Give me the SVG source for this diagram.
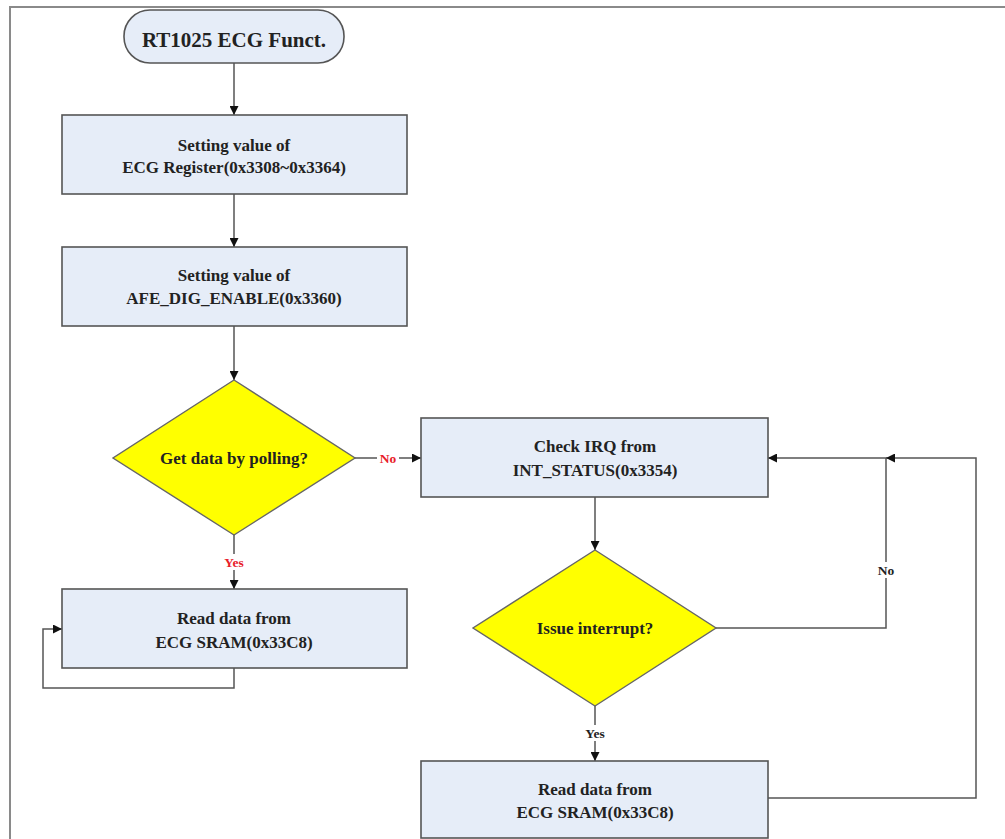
<svg xmlns="http://www.w3.org/2000/svg" width="1005" height="839" viewBox="0 0 1005 839">
<style>
.box{fill:#e6edf8;stroke:#555;stroke-width:1.6}
.dia{fill:#ffff00;stroke:#666;stroke-width:1.4}
.t{font-family:"Liberation Serif","Times New Roman",serif;font-weight:bold;font-size:17px;fill:#222;text-anchor:middle}
.lbl{font-family:"Liberation Serif","Times New Roman",serif;font-weight:bold;font-size:13.5px;text-anchor:middle}
.ln{fill:none;stroke:#555;stroke-width:1.5}
</style>
<defs>
<marker id="ah" viewBox="0 0 10 10" refX="10" refY="5" markerWidth="10" markerHeight="9" orient="auto" markerUnits="userSpaceOnUse">
<path d="M0,0 L10,5 L0,10 z" fill="#111"/>
</marker>
</defs>
<rect x="0" y="0" width="1005" height="839" fill="#fff"/>
<path d="M10,839 L10,7 L1005,7" fill="none" stroke="#8a8a8a" stroke-width="2"/>

<g id="connectors">
<path class="ln" d="M234,63 L234,115" marker-end="url(#ah)"/>
<path class="ln" d="M234,194 L234,247" marker-end="url(#ah)"/>
<path class="ln" d="M234,326 L234,380" marker-end="url(#ah)"/>
<path class="ln" d="M355,458 L421,458" marker-end="url(#ah)"/>
<path class="ln" d="M234,535 L234,589" marker-end="url(#ah)"/>
<path class="ln" d="M234,668 L234,688 L43,688 L43,629 L62,629" marker-end="url(#ah)"/>
<path class="ln" d="M595,497 L595,550" marker-end="url(#ah)"/>
<path class="ln" d="M595,706 L595,761" marker-end="url(#ah)"/>
<path class="ln" d="M716,628 L886,628 L886,458 L768,458" marker-end="url(#ah)"/>
<path class="ln" d="M768,798 L976,798 L976,458 L886,458" marker-end="url(#ah)"/>
<rect x="377" y="450" width="22" height="16" fill="#fff"/>
<text class="lbl" x="388" y="463" fill="#e8202a">No</text>
<rect x="221" y="554" width="26" height="16" fill="#fff"/>
<text class="lbl" x="234" y="567" fill="#e8202a">Yes</text>
<rect x="582" y="725" width="26" height="16" fill="#fff"/>
<text class="lbl" x="595" y="738" fill="#222">Yes</text>
<rect x="875" y="562" width="22" height="16" fill="#fff"/>
<text class="lbl" x="886" y="575" fill="#222">No</text>
</g>

<g id="start">
<rect x="124" y="10" width="220" height="53" rx="26" ry="26" class="box"/>
<text class="t" x="234" y="47" style="font-size:21px">RT1025 ECG Funct.</text>
</g>

<g id="set-ecg-register">
<rect x="62" y="115" width="345" height="79" class="box"/>
<text class="t" x="234" y="151">Setting value of</text>
<text class="t" x="234" y="173">ECG Register(0x3308~0x3364)</text>
</g>

<g id="set-afe-dig-enable">
<rect x="62" y="247" width="345" height="79" class="box"/>
<text class="t" x="234" y="281">Setting value of</text>
<text class="t" x="234" y="304">AFE_DIG_ENABLE(0x3360)</text>
</g>

<g id="polling-decision">
<polygon points="234,380 355,458 234,535 113,458" class="dia"/>
<text class="t" x="234" y="464">Get data by polling?</text>
</g>

<g id="check-irq">
<rect x="421" y="418" width="347" height="79" class="box"/>
<text class="t" x="595" y="452">Check IRQ from</text>
<text class="t" x="595" y="476">INT_STATUS(0x3354)</text>
</g>

<g id="read-sram-polling">
<rect x="62" y="589" width="345" height="79" class="box"/>
<text class="t" x="234" y="624">Read data from</text>
<text class="t" x="234" y="648">ECG SRAM(0x33C8)</text>
</g>

<g id="interrupt-decision">
<polygon points="595,550 716,628 595,706 473,628" class="dia"/>
<text class="t" x="595" y="634">Issue interrupt?</text>
</g>

<g id="read-sram-irq">
<rect x="421" y="761" width="347" height="77" class="box"/>
<text class="t" x="595" y="795">Read data from</text>
<text class="t" x="595" y="818">ECG SRAM(0x33C8)</text>
</g>
</svg>
